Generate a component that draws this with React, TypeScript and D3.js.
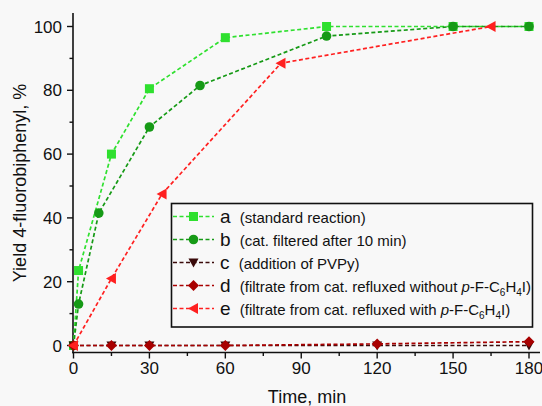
import React from "react";
import * as d3 from "d3";

const timeA = [0, 2, 15, 30, 60, 100, 150, 180];
const yieldA = [0, 23.5, 60, 80.5, 96.5, 100, 100, 100];
const timeB = [0, 2, 10, 30, 50, 100, 150, 180];
const yieldB = [0, 13, 41.5, 68.5, 81.5, 97, 100, 100];
const timeC = [0, 15, 30, 60, 120, 180];
const yieldC = [0, 0, 0, 0, 0, 0];
const timeD = [0, 15, 30, 60, 120, 180];
const yieldD = [0, 0, 0, 0, 0.5, 1.2];
const timeE = [0, 15, 35, 82, 165];
const yieldE = [0, 21, 47.5, 88.5, 100];

const xTicks = [0, 30, 60, 90, 120, 150, 180];
const xMinor = [15, 45, 75, 105, 135, 165];
const yTicks = [0, 20, 40, 60, 80, 100];
const yMinor = [10, 30, 50, 70, 90];

const FONT = "Arial, 'Liberation Sans', sans-serif";

type Series = {
  key: string;
  t: number[];
  v: number[];
  color: string;
  marker: string;
  letter: string;
};

const series: Series[] = [
  { key: "a", t: timeA, v: yieldA, color: "#2fe02f", marker: "square", letter: "a" },
  { key: "b", t: timeB, v: yieldB, color: "#169a16", marker: "circle", letter: "b" },
  { key: "c", t: timeC, v: yieldC, color: "#3a0a0a", marker: "down", letter: "c" },
  { key: "d", t: timeD, v: yieldD, color: "#a80000", marker: "diamond", letter: "d" },
  { key: "e", t: timeE, v: yieldE, color: "#ff2020", marker: "left", letter: "e" },
];

function Marker({ type, x, y, color }: { type: string; x: number; y: number; color: string }) {
  if (type === "square") return <rect x={x - 4.5} y={y - 4.5} width={9} height={9} fill={color} />;
  if (type === "circle") return <circle cx={x} cy={y} r={4.8} fill={color} />;
  if (type === "down")
    return <path d={`M${x - 5},${y - 4} L${x + 5},${y - 4} L${x},${y + 5} Z`} fill={color} />;
  if (type === "diamond")
    return <path d={`M${x},${y - 5.5} L${x + 5.5},${y} L${x},${y + 5.5} L${x - 5.5},${y} Z`} fill={color} />;
  return <path d={`M${x - 5.5},${y} L${x + 4.5},${y - 5.5} L${x + 4.5},${y + 5.5} Z`} fill={color} />;
}

export default function App() {
  const W = 542, H = 406;
  const x = d3.scaleLinear().domain([0, 180]).range([73.5, 529]);
  const y = d3.scaleLinear().domain([0, 100]).range([345.5, 26.5]);
  const axisX = 73;
  const axisY = 352.5;
  const line = d3.line<[number, number]>().x((d) => x(d[0])).y((d) => y(d[1]));

  const legendRows = [
    { s: series[0], text: <tspan>(standard reaction)</tspan> },
    { s: series[1], text: <tspan>(cat. filtered after 10 min)</tspan> },
    { s: series[2], text: <tspan>(addition of PVPy)</tspan> },
    {
      s: series[3],
      text: (
        <>
          <tspan>(filtrate from cat. refluxed without </tspan>
          <tspan fontStyle="italic">p</tspan>
          <tspan>-F-C</tspan>
          <tspan fontSize={10} dy={4}>6</tspan>
          <tspan dy={-4}>H</tspan>
          <tspan fontSize={10} dy={4}>4</tspan>
          <tspan dy={-4}>I)</tspan>
        </>
      ),
    },
    {
      s: series[4],
      text: (
        <>
          <tspan>(filtrate from cat. refluxed with </tspan>
          <tspan fontStyle="italic">p</tspan>
          <tspan>-F-C</tspan>
          <tspan fontSize={10} dy={4}>6</tspan>
          <tspan dy={-4}>H</tspan>
          <tspan fontSize={10} dy={4}>4</tspan>
          <tspan dy={-4}>I)</tspan>
        </>
      ),
    },
  ];
  const legendY = [216.5, 239.5, 262.5, 285.5, 308.5];

  return (
    <svg
      width={W}
      height={H}
      style={{ position: "absolute", left: 0, top: 0, background: "#f8f8f8" }}
      fontFamily={FONT}
    >
      <rect x={0} y={0} width={W} height={H} fill="#f8f8f8" />
      {/* axes */}
      <line x1={axisX} y1={13} x2={axisX} y2={axisY + 0.75} stroke="#111" strokeWidth={1.6} />
      <line x1={axisX - 0.75} y1={axisY} x2={540} y2={axisY} stroke="#111" strokeWidth={1.6} />
      {yTicks.map((t) => (
        <g key={"yt" + t}>
          <line x1={axisX - 6} x2={axisX} y1={y(t)} y2={y(t)} stroke="#111" strokeWidth={1.4} />
          <text x={62} y={y(t)} dy="0.36em" textAnchor="end" fontSize={17} fill="#111">
            {t}
          </text>
        </g>
      ))}
      {yMinor.map((t) => (
        <line key={"ym" + t} x1={axisX - 3.5} x2={axisX} y1={y(t)} y2={y(t)} stroke="#111" strokeWidth={1.4} />
      ))}
      {xTicks.map((t) => (
        <g key={"xt" + t}>
          <line x1={x(t)} x2={x(t)} y1={axisY} y2={axisY + 6} stroke="#111" strokeWidth={1.4} />
          <text x={x(t)} y={374} textAnchor="middle" fontSize={17} fill="#111">
            {t}
          </text>
        </g>
      ))}
      {xMinor.map((t) => (
        <line key={"xm" + t} x1={x(t)} x2={x(t)} y1={axisY} y2={axisY + 3.5} stroke="#111" strokeWidth={1.4} />
      ))}
      <text x={307} y={403} textAnchor="middle" fontSize={18} fill="#111">
        Time, min
      </text>
      <text
        transform="translate(26,183) rotate(-90)"
        textAnchor="middle"
        fontSize={18}
        fill="#111"
      >
        Yield 4-fluorobiphenyl, %
      </text>

      {/* series */}
      {series.map((s) => {
        const pts = s.t.map((t, i) => [t, s.v[i]] as [number, number]);
        return (
          <g key={s.key}>
            <path d={line(pts) || ""} fill="none" stroke={s.color} strokeWidth={1.7} strokeDasharray="4,2.5" />
            {pts.map((p, i) => (
              <Marker key={i} type={s.marker} x={x(p[0])} y={y(p[1])} color={s.color} />
            ))}
          </g>
        );
      })}

      {/* legend */}
      <rect x={171.5} y={203.5} width={361} height={123.5} fill="#f8f8f8" stroke="#111" strokeWidth={1.6} />
      {legendRows.map((r, i) => (
        <g key={"lg" + i}>
          <line x1={173} x2={214} y1={legendY[i]} y2={legendY[i]} stroke={r.s.color} strokeWidth={1.6} strokeDasharray="4,2.5" />
          <Marker type={r.s.marker} x={193.5} y={legendY[i]} color={r.s.color} />
          <text x={220} y={legendY[i] + 6} fontSize={15} fill="#111">
            <tspan fontSize={19}>{r.s.letter}</tspan>
            <tspan dx={5}> </tspan>
            {r.text}
          </text>
        </g>
      ))}
    </svg>
  );
}
